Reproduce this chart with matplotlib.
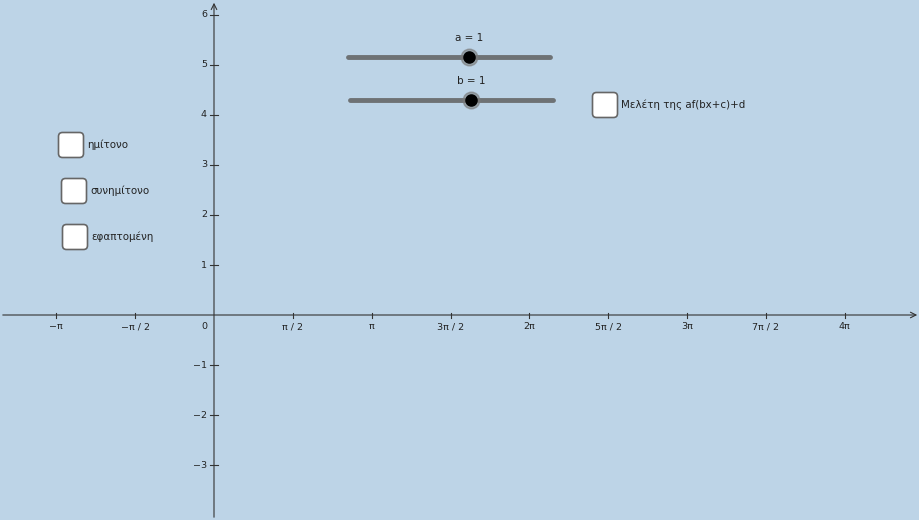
import numpy as np
import matplotlib.pyplot as plt
from matplotlib.patches import FancyBboxPatch

x_ticks = [-np.pi, -np.pi/2, np.pi/2, np.pi, 3*np.pi/2, 2*np.pi, 5*np.pi/2, 3*np.pi, 7*np.pi/2, 4*np.pi]
x_labels = ['−π', '−π / 2', 'π / 2', 'π', '3π / 2', '2π', '5π / 2', '3π', '7π / 2', '4π']
y_ticks = [-3, -2, -1, 1, 2, 3, 4, 5, 6]
y_labels = ['−3', '−2', '−1', '1', '2', '3', '4', '5', '6']
slider_names = ['a = 1', 'b = 1']
slider_values = [1, 1]
checkbox_labels = ['ημίτονο', 'συνημίτονο', 'εφαπτομένη', 'Μελέτη της af(bx+c)+d']

bg = '#bdd4e7'
fig = plt.figure(figsize=(9.2, 5.2), dpi=100, facecolor=bg)
ax = fig.add_axes([0, 0, 1, 1], facecolor=bg)
X0, X1 = -214/50.2, 706/50.2
Y0, Y1 = -205/50, 315/50
ax.set_xlim(X0, X1); ax.set_ylim(Y0, Y1)
for s in ax.spines.values():
    s.set_visible(False)
ax.annotate('', xy=(X1, 0), xytext=(X0, 0), arrowprops=dict(arrowstyle='->', lw=0.8, color='#333'))
ax.annotate('', xy=(0, Y1), xytext=(0, Y0), arrowprops=dict(arrowstyle='->', lw=0.8, color='#333'))
ax.set_xticks([]); ax.set_yticks([])
for t, l in zip(x_ticks, x_labels):
    ax.plot([t, t], [-0.05, 0.05], color='#333', lw=0.8)
    ax.text(t, -0.14, l, ha='center', va='top', fontsize=6.8, color='#222')
for t, l in zip(y_ticks, y_labels):
    ax.plot([-0.07, 0.07], [t, t], color='#333', lw=0.8)
    ax.text(-0.14, t, l, ha='right', va='center', fontsize=6.8, color='#222')
ax.text(-0.14, -0.14, '0', ha='right', va='top', fontsize=6.8, color='#222')

def px(x): return (x - 214) / 50.2
def py(y): return (315 - y) / 50

# sliders
sl = [(348, 550, 57, 469), (350, 553, 100, 471)]
for (a, b, y, p), name in zip(sl, slider_names):
    ax.plot([px(a), px(b)], [py(y), py(y)], color='#6e7275', lw=3.5, solid_capstyle='round')
    ax.plot(px(p), py(y), 'o', ms=12, color='#7a7a7a', alpha=0.6)
    ax.plot(px(p), py(y), 'o', ms=8, color='black')
    ax.text(px(p), py(y - 19), name, ha='center', va='center', fontsize=7.5, color='#222')

# checkboxes
cbs = [(71, 145), (74, 191), (75, 237), (605, 105)]
for (cx, cy), lab in zip(cbs, checkbox_labels):
    w = 25 / 50.2; h = 25 / 50
    ax.add_patch(FancyBboxPatch((px(cx) - w/2, py(cy) - h/2), w, h,
                 boxstyle='round,pad=0,rounding_size=0.08', fc='white', ec='#666', lw=1.2, mutation_aspect=1))
    ax.text(px(cx + 16), py(cy), lab, ha='left', va='center', fontsize=7.4, color='#222')

fig.savefig('out.png', dpi=100, facecolor=bg)
